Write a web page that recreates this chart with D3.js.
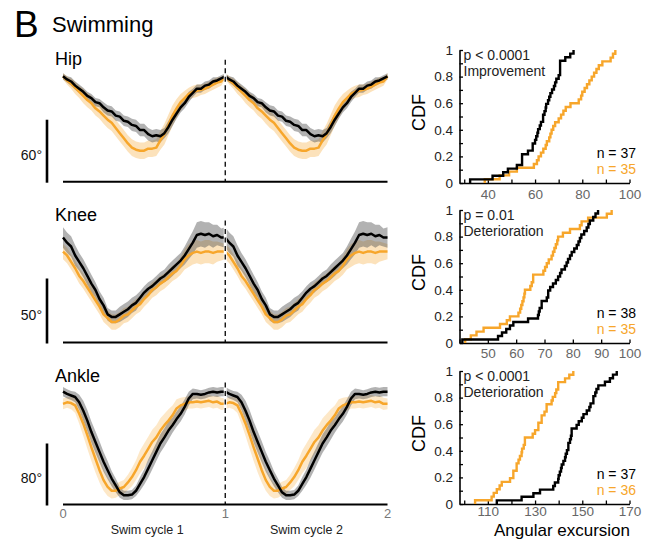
<!DOCTYPE html>
<html>
<head>
<meta charset="utf-8">
<script src="https://cdn.jsdelivr.net/npm/d3@7"></script>
<style>
  body { margin: 0; background: #fff; }
  svg { display: block; font-family: "Liberation Sans", Arial, Helvetica, sans-serif; }
</style>
</head>
<body>
<div id="chart"></div>
<script>
///// DATA
const joints = ['Hip', 'Knee', 'Ankle'];
const scaleBarDeg = [60, 50, 80];
const cycleTicks = [0, 1, 2];
const cycleLabels = ['Swim cycle 1', 'Swim cycle 2'];

// mean angle over one swim cycle (deg above panel floor), 41 samples per cycle
const hipBlack = [102, 99, 97, 93, 90, 87, 83, 81, 77, 76, 72, 69, 68, 64, 63, 59, 58, 55, 54, 50, 50, 46, 44, 45, 44, 47, 53, 60, 66, 72, 76, 82, 86, 90, 90, 93, 94, 97, 98, 100, 102];
const hipBlackSd = [3, 3, 4, 4, 4, 4, 4, 4, 4, 4, 5, 5, 5, 5, 5, 5, 5, 6, 6, 6, 6, 6, 6, 6, 6, 5, 6, 6, 5, 5, 5, 5, 4, 4, 4, 4, 4, 4, 3, 3, 3];
const hipOrange = [102, 98, 95, 91, 87, 83, 79, 76, 71, 68, 64, 60, 57, 52, 47, 42, 37, 33, 31, 30, 30, 32, 32, 33, 40, 46, 55, 64, 71, 77, 81, 85, 87, 88, 89, 90, 92, 94, 96, 97, 102];
const hipOrangeSd = [3, 4, 5, 6, 6, 7, 7, 7, 7, 7, 8, 8, 8, 8, 8, 8, 8, 8, 8, 8, 8, 8, 8, 8, 9, 10, 10, 10, 9, 8, 7, 6, 6, 6, 5, 5, 5, 5, 5, 4, 3];

const kneeBlack = [82, 78, 75, 68, 63, 58, 52, 46, 41, 34, 29, 22, 20, 20, 22, 24, 26, 29, 31, 35, 39, 42, 44, 47, 50, 52, 55, 58, 61, 64, 68, 73, 78, 84, 85, 84, 85, 83, 84, 82, 82];
const kneeBlackSd = [8, 8, 8, 8, 7, 7, 7, 7, 6, 6, 6, 5, 5, 5, 6, 6, 6, 6, 6, 5, 5, 5, 5, 5, 5, 5, 6, 6, 6, 6, 7, 8, 9, 10, 10, 10, 9, 9, 8, 7, 8];
const kneeOrange = [71, 68, 63, 58, 52, 48, 43, 38, 33, 28, 22, 19, 16, 16, 18, 21, 22, 25, 28, 30, 34, 37, 41, 43, 46, 48, 51, 54, 56, 60, 65, 68, 70, 71, 70, 71, 71, 70, 71, 71, 71];
const kneeOrangeSd = [6, 6, 6, 6, 6, 6, 6, 6, 6, 6, 6, 6, 6, 6, 6, 6, 6, 6, 6, 6, 6, 6, 6, 6, 6, 6, 6, 6, 6, 7, 8, 9, 9, 9, 9, 9, 9, 9, 8, 7, 6];

const ankleBlack = [148, 145, 143, 141, 134, 123, 110, 95, 82, 69, 56, 45, 34, 25, 16, 12, 12, 13, 18, 27, 36, 47, 58, 69, 80, 88, 97, 104, 112, 119, 128, 139, 145, 145, 144, 145, 147, 148, 147, 148, 148];
const ankleBlackSd = [6, 6, 6, 7, 10, 13, 14, 14, 14, 14, 13, 12, 10, 9, 7, 6, 6, 6, 7, 9, 10, 12, 12, 12, 12, 12, 12, 10, 10, 10, 10, 9, 7, 6, 6, 6, 6, 6, 6, 6, 6];
const ankleOrange = [132, 134, 133, 130, 119, 106, 91, 75, 60, 45, 32, 23, 18, 18, 21, 23, 29, 36, 45, 56, 64, 73, 82, 88, 97, 104, 110, 117, 126, 130, 132, 134, 134, 135, 134, 135, 136, 134, 135, 132, 132];
const ankleOrangeSd = [7, 7, 8, 10, 13, 16, 18, 18, 18, 16, 14, 12, 10, 9, 9, 9, 10, 12, 13, 15, 16, 16, 16, 16, 16, 15, 15, 13, 12, 10, 9, 8, 8, 8, 8, 8, 8, 8, 8, 8, 7];

// angular excursion per animal (deg)
const hipExcBlack = [32.5, 42, 46.5, 48.5, 52.3, 54.5, 54.5, 54.5, 57, 59, 59, 60, 60.5, 61, 61.3, 62, 62.5, 63.4, 63.4, 64, 64.5, 64.7, 65.5, 66, 66.5, 67.2, 68, 68.5, 69, 70, 70.6, 70.6, 70.6, 70.6, 72.8, 74.9, 76.3];
const hipExcOrange = [38.7, 45, 49, 52.3, 59.5, 60.8, 61.5, 62.5, 63.5, 64.5, 65, 66, 66.5, 67, 67.7, 68.5, 70, 71, 72, 73, 75, 78.5, 79.5, 80, 81, 82, 83, 84, 85, 86, 87, 88.5, 92, 93, 94];
const kneeExcBlack = [41, 53.6, 55, 56.5, 57.8, 59, 64.2, 67.7, 68, 68.3, 69, 69, 70.8, 71.3, 71.3, 72, 73, 74, 74.8, 75.5, 76, 77.2, 77.8, 78.3, 79, 79.6, 80.5, 81.4, 82, 82.5, 83, 84, 84.9, 85.5, 86, 87.2, 88, 88.9];
const kneeExcOrange = [42, 44, 46, 48.5, 54.3, 56.7, 57.8, 60.8, 61.4, 61.8, 62.2, 62.6, 62.9, 63.1, 65, 65.5, 66, 66, 69.6, 70.2, 70.8, 71.5, 72.5, 73, 73.5, 74, 74.5, 74.8, 76.5, 79, 82.5, 83.1, 85.4, 92, 93.7];
const ankleExcBlack = [113.8, 124.3, 129.3, 132.1, 137.7, 138.4, 139.8, 140, 140.5, 141, 141.3, 142, 142.7, 143, 143.5, 144.1, 144.1, 144.8, 145.2, 145.5, 145.5, 147.6, 148.5, 149.8, 150.5, 151.9, 153, 153.5, 154.7, 154.7, 155.5, 156, 156.8, 159.6, 161.7, 163, 164.6];
const ankleExcOrange = [104.6, 111.6, 112.5, 113.8, 115, 115.9, 119.4, 120.8, 120.8, 122.2, 122.2, 123, 123.6, 124.3, 124.5, 125.2, 125.7, 125.7, 129, 130, 131.4, 131.4, 132.8, 132.8, 134, 134.9, 134.9, 137, 137.5, 138.5, 139, 139.8, 139.8, 142.7, 144.5, 146.2];

const excDomains = [[28, 100], [40, 100], [98, 170]];
const excTickLabels = [[40, 60, 80, 100], [50, 60, 70, 80, 90, 100], [110, 130, 150, 170]];
const cdfTickLabels = [0, 0.2, 0.4, 0.6, 0.8, 1];
const pTexts = ['p < 0.0001', 'p = 0.01', 'p < 0.0001'];
const effectTexts = ['Improvement', 'Deterioration', 'Deterioration'];

const BLACK = '#000';
const ORANGE = '#f7a62b';

///// SVG
const W = 656, H = 543;
const svg = d3.select('#chart').append('svg').attr('width', W).attr('height', H);
svg.append('rect').attr('width', W).attr('height', H).attr('fill', '#fff');

// TITLE
svg.append('text').attr('x', 14).attr('y', 36.5).attr('font-size', 37).text('B');
svg.append('text').attr('x', 52).attr('y', 31.5).attr('font-size', 22).text('Swimming');

// PANEL LAYOUT
const panelBottom = [181.7, 342.5, 504.5];
const pxPerDeg = [1.033, 1.28, 0.7625];
const labelOffset = [117, 122, 123];
const bandAlpha = [0.32, 0.32, 0.26];
const PANEL_H = 122;
const cdfBottom = [183, 343, 504];
const cdfTickPad = [6, 5, 2.5];
const CDF_H = 133;

const x = d3.scaleLinear().domain([0, 2]).range([63, 387.5]);
const phase = d3.range(41).map(i => i / 40);

// same cycle drawn twice
function twoCycles(mean, sd) {
    const first = mean.map((v, i) => ({ t: phase[i], v: v, sd: sd[i] }));
    const second = mean.slice(1).map((v, i) => ({ t: 1 + phase[i + 1], v: v, sd: sd[i + 1] }));
    return first.concat(second);
}

/////////////// TRACES
class TracePanel {
    constructor(i, black, blackSd, orange, orangeSd) {
        const vis = this;
        vis.i = i;
        vis.black = twoCycles(black, blackSd);
        vis.orange = twoCycles(orange, orangeSd);
        vis.draw();
    }

    draw() {
        const vis = this;
        const bottom = panelBottom[vis.i];

        vis.g = svg.append('g').attr('class', 'trace-panel');

        vis.y = d3.scaleLinear()
            .domain([0, PANEL_H / pxPerDeg[vis.i]])
            .range([bottom, bottom - PANEL_H]);

        const area = d3.area()
            .x(d => x(d.t))
            .y0(d => vis.y(d.v - d.sd))
            .y1(d => vis.y(d.v + d.sd));

        const line = d3.line()
            .x(d => x(d.t))
            .y(d => vis.y(d.v));

        // BANDS
        vis.g.append('path').datum(vis.orange)
            .attr('d', area).attr('fill', ORANGE).attr('fill-opacity', bandAlpha[vis.i]);
        vis.g.append('path').datum(vis.black)
            .attr('d', area).attr('fill', '#555').attr('fill-opacity', 0.45);

        // MEANS
        vis.g.append('path').datum(vis.orange)
            .attr('d', line).attr('fill', 'none')
            .attr('stroke', ORANGE).attr('stroke-width', 2.5).attr('stroke-linejoin', 'round');
        vis.g.append('path').datum(vis.black)
            .attr('d', line).attr('fill', 'none')
            .attr('stroke', BLACK).attr('stroke-width', 2.5).attr('stroke-linejoin', 'round');

        // CYCLE DIVIDER
        vis.g.append('line')
            .attr('x1', x(1)).attr('x2', x(1))
            .attr('y1', vis.y.range()[1]).attr('y2', bottom)
            .attr('stroke', '#fff').attr('stroke-width', 3);
        vis.g.append('line')
            .attr('x1', x(1)).attr('x2', x(1))
            .attr('y1', vis.y.range()[1]).attr('y2', bottom)
            .attr('stroke', BLACK).attr('stroke-width', 1.3)
            .attr('stroke-dasharray', '5,3.5');

        // FLOOR LINE
        vis.g.append('line')
            .attr('x1', x(0)).attr('x2', x(2))
            .attr('y1', bottom).attr('y2', bottom)
            .attr('stroke', BLACK).attr('stroke-width', 2);

        // SCALE BAR
        vis.g.append('line')
            .attr('x1', 47).attr('x2', 47)
            .attr('y1', vis.y(0) + 1).attr('y2', vis.y(scaleBarDeg[vis.i]))
            .attr('stroke', BLACK).attr('stroke-width', 2.6);
        vis.g.append('text')
            .attr('x', 42).attr('y', vis.y(scaleBarDeg[vis.i] / 2) + 9)
            .attr('text-anchor', 'end').attr('font-size', 14).attr('fill', '#111')
            .text(scaleBarDeg[vis.i] + '°');

        // JOINT LABEL
        vis.g.append('text')
            .attr('x', 55).attr('y', bottom - labelOffset[vis.i])
            .attr('font-size', 18).text(joints[vis.i]);
    }
}

/////////////// CDF
class CdfPanel {
    constructor(i, black, orange) {
        const vis = this;
        vis.i = i;
        vis.black = black;
        vis.orange = orange;
        vis.draw();
    }

    steps(values) {
        const n = values.length;
        const pts = [[values[0], 0]];
        values.forEach((v, k) => pts.push([v, (k + 1) / n]));
        return pts;
    }

    draw() {
        const vis = this;
        const bottom = cdfBottom[vis.i];
        const top = bottom - CDF_H;
        const domain = excDomains[vis.i];

        vis.g = svg.append('g').attr('class', 'cdf-panel');

        vis.x = d3.scaleLinear().domain(domain).range([459.5, 629.5]);
        vis.y = d3.scaleLinear().domain([0, 1]).range([bottom, top]);

        const line = d3.line()
            .curve(d3.curveStepAfter)
            .x(d => vis.x(d[0]))
            .y(d => vis.y(d[1]));

        // Y AXIS
        const yTicks = d3.range(0, 11).map(k => k / 10);
        const yAxis = d3.axisLeft(vis.y)
            .tickValues(yTicks)
            .tickSizeInner(-3.5)
            .tickSizeOuter(0)
            .tickPadding(6.5)
            .tickFormat(d => cdfTickLabels.some(t => Math.abs(t - d) < 1e-9) ? String(+d.toFixed(1)) : '');
        const yg = vis.g.append('g').attr('transform', `translate(${vis.x.range()[0]},0)`).call(yAxis);

        // X AXIS
        const first = Math.ceil(domain[0] / 10) * 10;
        const xTicks = d3.range(first, domain[1] + 1, 10);
        const labels = excTickLabels[vis.i];
        const xAxis = d3.axisBottom(vis.x)
            .tickValues(xTicks)
            .tickSizeInner(-3.5)
            .tickSizeOuter(0)
            .tickPadding(cdfTickPad[vis.i])
            .tickFormat(d => labels.includes(d) ? d : '');
        const xg = vis.g.append('g').attr('transform', `translate(0,${bottom})`).call(xAxis);

        [yg, xg].forEach(g => {
            g.attr('font-family', null);
            g.select('.domain').attr('stroke', BLACK).attr('stroke-width', 1.6);
            g.selectAll('.tick line').attr('stroke', BLACK).attr('stroke-width', 1.3);
        });
        yg.selectAll('.tick text').attr('font-size', 13.5).attr('fill', '#222');
        xg.selectAll('.tick text').attr('font-size', 13.5).attr('fill', '#666');

        // CDF STEPS
        vis.g.append('path').datum(vis.steps(vis.orange))
            .attr('d', line).attr('fill', 'none')
            .attr('stroke', ORANGE).attr('stroke-width', 2.4);
        vis.g.append('path').datum(vis.steps(vis.black))
            .attr('d', line).attr('fill', 'none')
            .attr('stroke', BLACK).attr('stroke-width', 2.4);

        // Y LABEL
        vis.g.append('text')
            .attr('transform', `translate(425,${bottom - CDF_H / 2 - 4}) rotate(-90)`)
            .attr('text-anchor', 'middle').attr('font-size', 18)
            .text('CDF');

        // STATS TEXT
        vis.g.append('text')
            .attr('x', 463.5).attr('y', top + 10)
            .attr('font-size', 14).attr('fill', '#222')
            .text(pTexts[vis.i]);
        vis.g.append('text')
            .attr('x', 463.5).attr('y', top + 26)
            .attr('font-size', 14).attr('fill', '#222')
            .text(effectTexts[vis.i]);

        // N COUNTS
        vis.g.append('text')
            .attr('x', 636).attr('y', bottom - 25)
            .attr('text-anchor', 'end').attr('font-size', 14).attr('fill', BLACK)
            .text(`n = ${vis.black.length}`);
        vis.g.append('text')
            .attr('x', 636).attr('y', bottom - 9)
            .attr('text-anchor', 'end').attr('font-size', 14).attr('fill', ORANGE)
            .text(`n = ${vis.orange.length}`);
    }
}

new TracePanel(0, hipBlack, hipBlackSd, hipOrange, hipOrangeSd);
new TracePanel(1, kneeBlack, kneeBlackSd, kneeOrange, kneeOrangeSd);
new TracePanel(2, ankleBlack, ankleBlackSd, ankleOrange, ankleOrangeSd);

new CdfPanel(0, hipExcBlack, hipExcOrange);
new CdfPanel(1, kneeExcBlack, kneeExcOrange);
new CdfPanel(2, ankleExcBlack, ankleExcOrange);

// CYCLE AXIS (BOTTOM PANEL ONLY)
const cycleG = svg.append('g');
cycleG.selectAll('.cycle-tick')
    .data(cycleTicks)
    .enter()
    .append('text')
    .attr('class', 'cycle-tick')
    .attr('x', d => x(d))
    .attr('y', 518)
    .attr('text-anchor', 'middle')
    .attr('font-size', 13)
    .attr('fill', '#777')
    .text(d => d);

cycleG.selectAll('.cycle-label')
    .data(cycleLabels)
    .enter()
    .append('text')
    .attr('class', 'cycle-label')
    .attr('x', (d, i) => x(i + 0.5) + (i === 0 ? 3 : 0))
    .attr('y', 534)
    .attr('text-anchor', 'middle')
    .attr('font-size', 12.5)
    .attr('fill', '#222')
    .text(d => d);

svg.append('text')
    .attr('x', 562).attr('y', 536)
    .attr('text-anchor', 'middle').attr('font-size', 17)
    .text('Angular excursion');
</script>
</body>
</html>
